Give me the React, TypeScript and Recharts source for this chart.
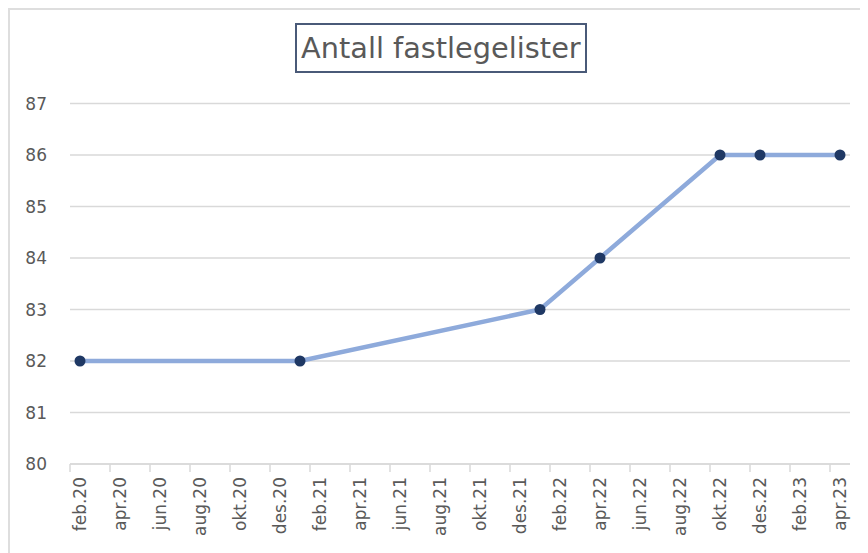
import { LineChart, Line, XAxis, YAxis, CartesianGrid } from "recharts";

const monthNames = ["jan", "feb", "mar", "apr", "mai", "jun", "jul", "aug", "sep", "okt", "nov", "des"];

// x axis labels, every second month
const tickLabels = [
  "feb.20", "apr.20", "jun.20", "aug.20", "okt.20", "des.20",
  "feb.21", "apr.21", "jun.21", "aug.21", "okt.21", "des.21",
  "feb.22", "apr.22", "jun.22", "aug.22", "okt.22", "des.22",
  "feb.23", "apr.23",
];

const pointDates = ["feb.20", "jan.21", "jan.22", "apr.22", "okt.22", "des.22", "apr.23"];
const listCounts = [82, 82, 83, 84, 86, 86, 86];

const yTicks = [80, 81, 82, 83, 84, 85, 86, 87];

// months since feb.20
const monthIndex = (label: string) => {
  const [m, y] = label.split(".");
  return (Number(y) - 20) * 12 + monthNames.indexOf(m) - 1;
};

const data = pointDates.map((d, i) => ({ m: monthIndex(d), value: listCounts[i] }));
const xTicks = tickLabels.map(monthIndex);
const labelFor: Record<number, string> = {};
tickLabels.forEach((l) => (labelFor[monthIndex(l)] = l));

const firstMonth = 0;
const lastMonth = monthIndex("apr.23");
const plotWidth = 780;
const slot = plotWidth / (lastMonth - firstMonth + 1);

const font = "'DejaVu Sans', sans-serif";

function MonthTick({ x, y, payload }: any) {
  const tx = x - slot / 2;
  return (
    <g>
      <line x1={tx} y1={y} x2={tx} y2={y + 8} stroke="#d9d9d9" strokeWidth={1.5} />
      <text
        x={x}
        y={y + 13}
        transform={`rotate(-90 ${x} ${y + 13})`}
        textAnchor="end"
        dominantBaseline="central"
        fill="#595959"
        fontSize={17}
        fontFamily={font}
      >
        {labelFor[payload.value]}
      </text>
    </g>
  );
}

export default function App() {
  return (
    <div
      style={{
        position: "relative",
        width: 870,
        height: 545,
        borderTop: "2px solid #dedede",
        borderLeft: "2px solid #dedede",
        overflow: "hidden",
        background: "#fff",
      }}
    >
      <div
        style={{
          position: "absolute",
          left: 285,
          top: 13,
          padding: "3px 4px",
          border: "2px solid #4a5a78",
          lineHeight: "40px",
          fontSize: 28.8,
          fontFamily: font,
          color: "#595959",
          whiteSpace: "nowrap",
        }}
      >
        Antall fastlegelister
      </div>
      <LineChart
        width={860}
        height={540}
        data={data}
        margin={{ top: 93.5, right: 20, left: 0, bottom: 6 }}
      >
        <CartesianGrid vertical={false} stroke="#d9d9d9" strokeWidth={1.5} />
        <XAxis
          dataKey="m"
          type="number"
          domain={[firstMonth - 0.5, lastMonth + 0.5]}
          ticks={xTicks}
          interval={0}
          height={80}
          tickLine={false}
          tickSize={0}
          tickMargin={0}
          axisLine={{ stroke: "#d9d9d9", strokeWidth: 1.5 }}
          tick={<MonthTick />}
        />
        <YAxis
          domain={[80, 87]}
          ticks={yTicks}
          width={60}
          axisLine={false}
          tickLine={false}
          tickSize={0}
          tickMargin={23}
          tick={{ fill: "#595959", fontSize: 17, fontFamily: font }}
        />
        <Line
          type="linear"
          dataKey="value"
          stroke="#8eaadb"
          strokeWidth={4.5}
          dot={{ r: 5.5, fill: "#1f3864", stroke: "none" }}
          activeDot={false}
          isAnimationActive={false}
        />
      </LineChart>
    </div>
  );
}
